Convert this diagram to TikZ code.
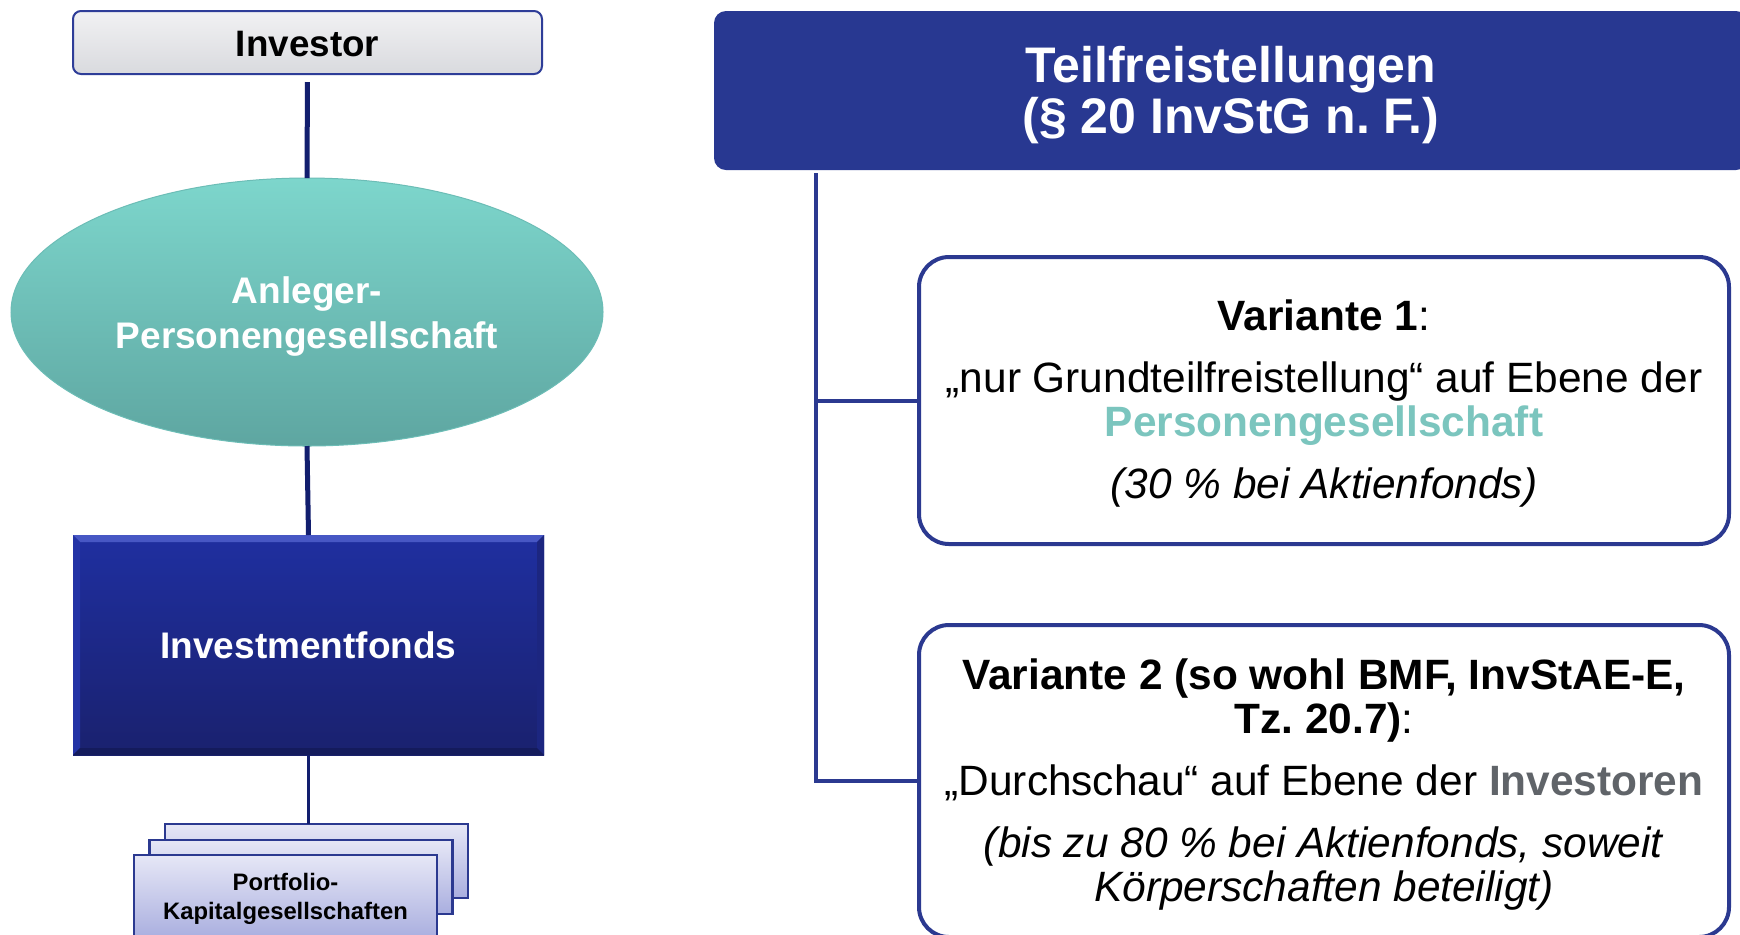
\documentclass[tikz,border=0pt]{standalone}
\usepackage{fontspec}
\setmainfont{Liberation Sans}
\usetikzlibrary{shapes.geometric,calc}
\frenchspacing
\definecolor{navy}{HTML}{121E6E}
\definecolor{treeblue}{HTML}{2B3990}
\definecolor{hdrblue}{HTML}{283891}
\definecolor{tealtop}{HTML}{7DD6CC}
\definecolor{tealbot}{HTML}{5EA6A1}
\definecolor{tealedge}{HTML}{6CBDB6}
\definecolor{tealtext}{HTML}{7BC5BE}
\definecolor{invgray}{HTML}{606469}
\definecolor{fondtop}{HTML}{1F2FA0}
\definecolor{fondbot}{HTML}{1A216E}
\definecolor{bevtop}{HTML}{4757C4}
\definecolor{bevside}{HTML}{2333A6}
\definecolor{bevright}{HTML}{1C2680}
\definecolor{bevbot}{HTML}{141B5C}
\definecolor{pftop}{HTML}{E6E7F6}
\definecolor{pfbot}{HTML}{A9AEDF}
\definecolor{invtop}{HTML}{F1F1F3}
\definecolor{invbot}{HTML}{D9DADE}
\definecolor{boxborder}{HTML}{2E3D98}
\newcommand\mystrut[1]{\rule{0pt}{\dimexpr0.73em+#1\relax}}
\begin{document}
\begin{tikzpicture}[x=0.5pt,y=-0.5pt,
  every node/.style={inner sep=0pt, outer sep=0pt},
  investorbox/.style={draw=boxborder, line width=1pt, rounded corners=4pt,
    top color=invtop, bottom color=invbot, minimum width=234.5pt, minimum height=31.5pt,
    font=\fontsize{18.4}{20}\selectfont\bfseries},
  pgellipse/.style={ellipse, draw=tealedge, line width=0.5pt, top color=tealtop, bottom color=tealbot,
    minimum width=296pt, minimum height=134pt, text=white, align=center,
    font=\fontsize{18.5}{22.4}\selectfont\bfseries},
  fondsbox/.style={top color=fondtop, bottom color=fondbot, minimum width=235.5pt,
    minimum height=110pt, text=white, font=\fontsize{18.5}{22}\selectfont\bfseries},
  pfbox/.style={draw=treeblue, line width=1.2pt, top color=pftop, bottom color=pfbot,
    minimum width=151.5pt, minimum height=37pt},
  hdrbox/.style={fill=hdrblue, rounded corners=6pt, minimum width=517pt, minimum height=79.5pt,
    text=white, align=center, font=\fontsize{25}{25.5}\selectfont\bfseries},
  varbox/.style={draw=treeblue, line width=2pt, fill=white, rounded corners=15pt,
    minimum width=405pt, align=center, font=\fontsize{21.2}{22}\selectfont},
  navyline/.style={draw=navy, line width=2.5pt},
  treeline/.style={draw=treeblue, line width=2pt}
]
\clip (0,0) rectangle (1740,934);
\fill[white] (0,0) rectangle (1740,934);

% left column
\node[investorbox] (inv) at (307.5,42.5) {\mystrut{1pt}Investor};
\node[pgellipse] (ell) at (307,312) {\mystrut{4.5pt}Anleger-\\Personengesellschaft};
\node[fondsbox] (fonds) at (308.5,645) {Investmentfonds};
\fill[bevtop] (fonds.north west) -- (fonds.north east) -- ($(fonds.north east)+(-7,7)$) -- ($(fonds.north west)+(7,7)$) -- cycle;
\fill[bevside] (fonds.north west) -- ($(fonds.north west)+(7,7)$) -- ($(fonds.south west)+(7,-7)$) -- (fonds.south west) -- cycle;
\fill[bevright] (fonds.north east) -- ($(fonds.north east)+(-7,7)$) -- ($(fonds.south east)+(-7,-7)$) -- (fonds.south east) -- cycle;
\fill[bevbot] (fonds.south west) -- ($(fonds.south west)+(7,-7)$) -- ($(fonds.south east)+(-7,-7)$) -- (fonds.south east) -- cycle;

\node[pfbox] (pfback) at (316.5,861) {};
\node[pfbox] (pfmid) at (301,877) {};
\node[pfbox, minimum height=42pt, align=center, font=\fontsize{11.9}{14.5}\selectfont\bfseries] (pffront) at (285.5,897) {\mystrut{2.2pt}Portfolio-\\Kapitalgesellschaften};

\draw[navyline, shorten <=4pt] (inv.south) -- (ell.north);
\draw[navyline] (ell.south) -- (fonds.north);
\draw[navyline, line width=1.8pt] (fonds.south) -- (fonds.south |- pfback.north);

% right column
\node[hdrbox] (hdr) at (1231,90.5) {\mystrut{4pt}Teilfreistellungen\\(§ 20 InvStG n.~F.)};
\node[varbox, minimum height=143.5pt] (v1) at (1324,400.5)
  {\mystrut{3pt}\textbf{Variante 1}:\\[9pt]
   „nur Grundteilfreistellung“ auf Ebene der\\
   \textcolor{tealtext}{\textbf{Personengesellschaft}}\\[9pt]
   \textit{(30 \% bei Aktienfonds)}};
\node[varbox, minimum height=156pt] (v2) at (1324,781)
  {\mystrut{3.2pt}\textbf{Variante 2 (so wohl BMF, InvStAE-E,}\\
   \textbf{Tz.\ 20.7)}:\\[9pt]
   „Durchschau“ auf Ebene der \textcolor{invgray}{\textbf{Investoren}}\\[9pt]
   \textit{(bis zu 80 \% bei Aktienfonds, soweit}\\
   \textit{Körperschaften beteiligt)}};
\coordinate (trunk) at (816,173);
\draw[treeline] (trunk) |- (v1.west);
\draw[treeline] (trunk) |- (v2.west);
\end{tikzpicture}
\end{document}
